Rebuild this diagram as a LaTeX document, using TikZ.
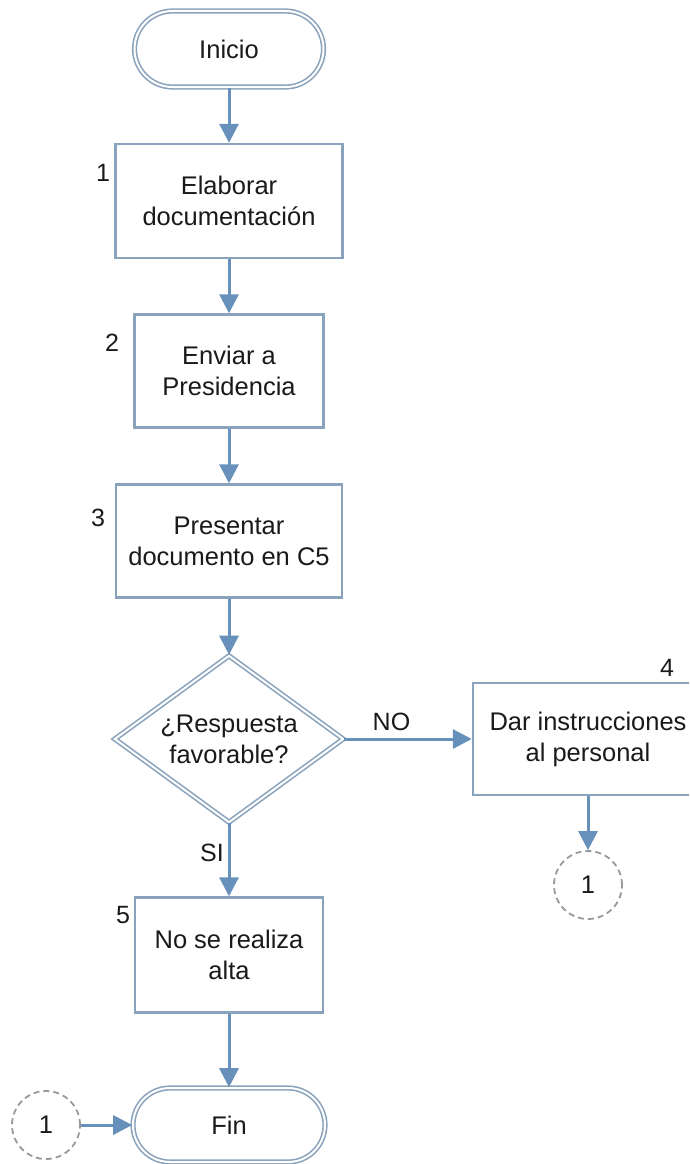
\documentclass[tikz,border=0pt]{standalone}
\usepackage{fontspec}
\setmainfont{Liberation Sans}
\usetikzlibrary{shapes.geometric,shapes.misc,arrows.meta}

\definecolor{edge}{HTML}{8AA3BC}
\definecolor{flow}{HTML}{6790BA}
\definecolor{ring}{HTML}{999999}
\definecolor{ink}{HTML}{1A1A1A}

\begin{document}
\begin{tikzpicture}[x=1pt,y=-1pt,
  txt/.style={font=\fontsize{25.5}{31}\selectfont, align=center, text=ink},
  term/.style={txt, rounded rectangle, draw=edge, double=white,
    double distance=2pt, line width=1.6pt, inner sep=0pt,
    minimum width=189pt, minimum height=76pt},
  stepbox/.style={txt, rectangle, draw=edge, line width=2.4pt, fill=white,
    inner sep=0pt},
  decision/.style={txt, diamond, draw=edge, double=white,
    double distance=2pt, line width=1.6pt, inner sep=0pt, aspect=1.4,
    minimum width=229pt, minimum height=167pt},
  link/.style={circle, draw=ring, dashed, dash pattern=on 6pt off 4pt,
    line width=1.8pt, minimum size=68pt, inner sep=0pt, txt},
  num/.style={font=\fontsize{25}{28}\selectfont, text=ink, inner sep=0pt},
  flowarrow/.style={draw=flow, line width=3pt,
    -{Triangle[length=19pt,width=19pt]}}
]
\useasboundingbox (0,0) rectangle (689,1164);
\clip (0,0) rectangle (689,1164);

% main column
\node[term] (inicio) at (229,49) {Inicio};
\node[stepbox, minimum width=227pt, minimum height=114pt] (s1) at (229,201)
  {Elaborar\\documentación};
\node[stepbox, minimum width=189pt, minimum height=113pt] (s2) at (229,371)
  {Enviar a\\Presidencia};
\node[stepbox, minimum width=226pt, minimum height=113pt] (s3) at (229,541)
  {Presentar\\documento en C5};
\node[decision] (dec) at (229,739) {¿Respuesta\\favorable?};
\node[stepbox, minimum width=188pt, minimum height=115pt] (s5) at (229,955)
  {No se realiza\\alta};
\node[term, minimum width=192pt, minimum height=74pt] (fin) at (229,1125) {Fin};

% branch for the negative answer
\node[stepbox, minimum width=230pt, minimum height=112pt] (s4) at (588,739)
  {Dar instrucciones\\al personal};
\node[link] (out1) at (588,885) {1};
\node[link] (in1) at (46,1125) {1};

% step numbers
\node[num] (n1) at (103,173) {1};
\node[num] (n2) at (112,343) {2};
\node[num] (n3) at (98,518) {3};
\node[num] (n4) at (667,668) {4};
\node[num] (n5) at (123,915) {5};

% connectors
\draw[flowarrow] (inicio.south) -- (s1.north);
\draw[flowarrow] (s1.south) -- (s2.north);
\draw[flowarrow] (s2.south) -- (s3.north);
\draw[flowarrow] (s3.south) -- (dec.north);
\draw[flowarrow] (dec.east) -- node[num, pos=0.37, yshift=17pt] (no) {NO} (s4.west);
\draw[flowarrow] (dec.south) -- node[num, pos=0.4, xshift=-17pt] (si) {SI} (s5.north);
\draw[flowarrow] (s5.south) -- (fin.north);
\draw[flowarrow] (s4.south) -- (out1.north);
\draw[flowarrow] (in1.east) -- (fin.west);
\end{tikzpicture}
\end{document}
